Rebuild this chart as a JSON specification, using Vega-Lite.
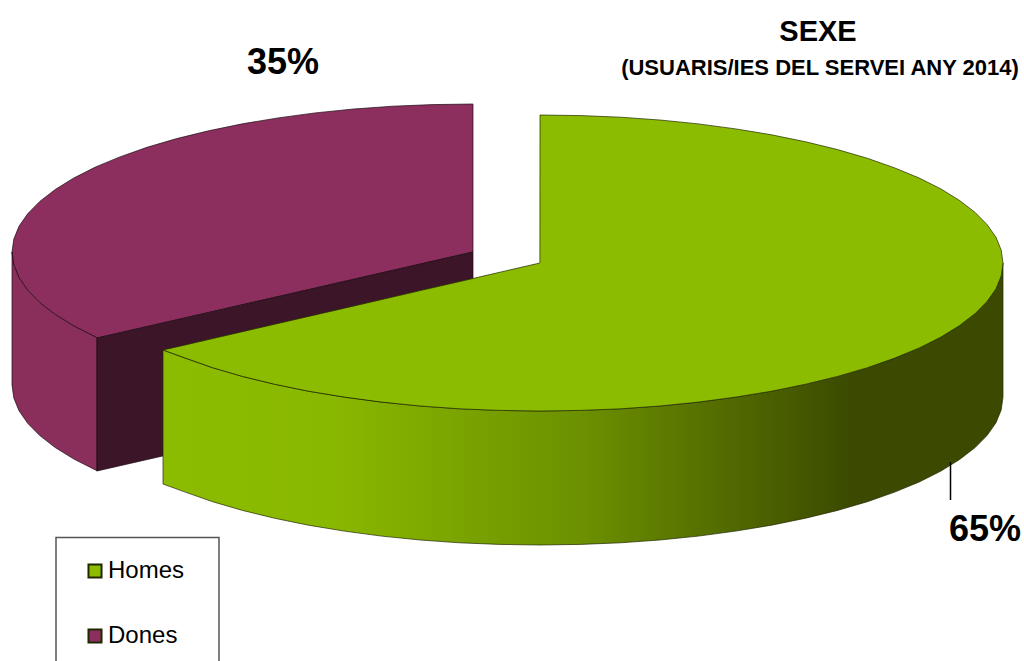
{
"$schema":"https://vega.github.io/schema/vega-lite/v6.json",
"width":1024,"height":661,
"autosize":{"type":"none"},
"padding":0,
"background":"white",
"config":{"view":{"stroke":null}},
"datasets":{
"donesTop":[
{"sexe":"Dones","x":12,"y":252,"y2":252},{"sexe":"Dones","x":13.8,"y":239.1,"y2":264.9},{"sexe":"Dones","x":19,"y":226.3,"y2":277.7},{"sexe":"Dones","x":27.7,"y":213.7,"y2":290.3},{"sexe":"Dones","x":39.8,"y":201.4,"y2":302.6},{"sexe":"Dones","x":55.2,"y":189.5,"y2":314.5},{"sexe":"Dones","x":73.8,"y":178,"y2":326},{"sexe":"Dones","x":95.4,"y":167.1,"y2":336.9},{"sexe":"Dones","x":97,"y":166.4,"y2":338},{"sexe":"Dones","x":119.9,"y":156.9,"y2":332.8},{"sexe":"Dones","x":147,"y":147.3,"y2":326.6},{"sexe":"Dones","x":176.7,"y":138.6,"y2":319.8},{"sexe":"Dones","x":208.6,"y":130.8,"y2":312.5},{"sexe":"Dones","x":242.5,"y":123.8,"y2":304.7},{"sexe":"Dones","x":278.2,"y":117.9,"y2":296.6},{"sexe":"Dones","x":315.3,"y":112.9,"y2":288.1},{"sexe":"Dones","x":353.7,"y":109,"y2":279.3},{"sexe":"Dones","x":393,"y":106.2,"y2":270.3},{"sexe":"Dones","x":432.8,"y":104.6,"y2":261.2},{"sexe":"Dones","x":473,"y":104,"y2":252}],
"donesWall":[
{"x":12,"y":252,"y2":385},{"x":13.8,"y":264.9,"y2":397.9},{"x":19,"y":277.7,"y2":410.7},{"x":27.7,"y":290.3,"y2":423.3},{"x":39.8,"y":302.6,"y2":435.6},{"x":55.2,"y":314.5,"y2":447.5},{"x":73.8,"y":326,"y2":459},{"x":95.4,"y":336.9,"y2":469.9},{"x":97,"y":338,"y2":471}],
"donesCut":[{"x":97,"y":338,"y2":471},{"x":473,"y":252,"y2":385}],
"homesWall":[
{"x":163,"y":350,"y2":484},{"x":185.3,"y":358.1,"y2":492.1},{"x":212.6,"y":367.7,"y2":501.7},{"x":242.4,"y":376.4,"y2":510.4},{"x":274.4,"y":384.2,"y2":518.2},{"x":308.5,"y":391.2,"y2":525.2},{"x":344.3,"y":397.1,"y2":531.1},{"x":381.6,"y":402.1,"y2":536.1},{"x":420.2,"y":406,"y2":540},{"x":459.6,"y":408.8,"y2":542.8},{"x":499.6,"y":410.4,"y2":544.4},{"x":540,"y":411,"y2":545},{"x":580.4,"y":410.4,"y2":544.4},{"x":620.4,"y":408.8,"y2":542.8},{"x":659.8,"y":406,"y2":540},{"x":698.4,"y":402.1,"y2":536.1},{"x":735.7,"y":397.1,"y2":531.1},{"x":771.5,"y":391.2,"y2":525.2},{"x":805.6,"y":384.2,"y2":518.2},{"x":837.6,"y":376.4,"y2":510.4},{"x":867.4,"y":367.7,"y2":501.7},{"x":894.7,"y":358.1,"y2":492.1},{"x":919.3,"y":347.9,"y2":481.9},{"x":941,"y":337,"y2":471},{"x":959.6,"y":325.5,"y2":459.5},{"x":975.1,"y":313.6,"y2":447.6},{"x":987.2,"y":301.3,"y2":435.3},{"x":996,"y":288.7,"y2":422.7},{"x":1001.2,"y":275.9,"y2":409.9},{"x":1003,"y":263,"y2":397}],
"homesTop":[
{"sexe":"Homes","x":163,"y":350,"y2":350},{"sexe":"Homes","x":185.3,"y":344.9,"y2":358.1},{"sexe":"Homes","x":212.6,"y":338.6,"y2":367.7},{"sexe":"Homes","x":242.4,"y":331.7,"y2":376.4},{"sexe":"Homes","x":274.4,"y":324.3,"y2":384.2},{"sexe":"Homes","x":308.5,"y":316.4,"y2":391.2},{"sexe":"Homes","x":344.3,"y":308.2,"y2":397.1},{"sexe":"Homes","x":381.6,"y":299.6,"y2":402.1},{"sexe":"Homes","x":420.2,"y":290.6,"y2":406},{"sexe":"Homes","x":459.6,"y":281.6,"y2":408.8},{"sexe":"Homes","x":499.6,"y":272.3,"y2":410.4},{"sexe":"Homes","x":539.9,"y":263,"y2":411},{"sexe":"Homes","x":540,"y":115,"y2":411},{"sexe":"Homes","x":580.4,"y":115.6,"y2":410.4},{"sexe":"Homes","x":620.4,"y":117.2,"y2":408.8},{"sexe":"Homes","x":659.8,"y":120,"y2":406},{"sexe":"Homes","x":698.4,"y":123.9,"y2":402.1},{"sexe":"Homes","x":735.7,"y":128.9,"y2":397.1},{"sexe":"Homes","x":771.5,"y":134.8,"y2":391.2},{"sexe":"Homes","x":805.6,"y":141.8,"y2":384.2},{"sexe":"Homes","x":837.6,"y":149.6,"y2":376.4},{"sexe":"Homes","x":867.4,"y":158.3,"y2":367.7},{"sexe":"Homes","x":894.7,"y":167.9,"y2":358.1},{"sexe":"Homes","x":919.3,"y":178.1,"y2":347.9},{"sexe":"Homes","x":941,"y":189,"y2":337},{"sexe":"Homes","x":959.6,"y":200.5,"y2":325.5},{"sexe":"Homes","x":975.1,"y":212.4,"y2":313.6},{"sexe":"Homes","x":987.2,"y":224.7,"y2":301.3},{"sexe":"Homes","x":996,"y":237.3,"y2":288.7},{"sexe":"Homes","x":1001.2,"y":250.1,"y2":275.9},{"sexe":"Homes","x":1003,"y":263,"y2":263}]
},
"encoding":{
"x":{"field":"x","type":"quantitative","scale":{"domain":[0,1024],"nice":false,"zero":false},"axis":null},
"y":{"field":"y","type":"quantitative","scale":{"domain":[661,0],"nice":false,"zero":false},"axis":null},
"y2":{"field":"y2"}
},
"layer":[
{"data":{"name":"donesTop"},"mark":{"type":"area","stroke":"#1a0a12","strokeWidth":0.7},"encoding":{"color":{"field":"sexe","type":"nominal","scale":{"domain":["Homes","Dones"],"range":["#8cbc00","#8c2f5e"]},"legend":{"title":null,"orient":"none","legendX":83,"legendY":559,"padding":0,"symbolType":"square","symbolSize":170,"symbolStrokeColor":"black","symbolStrokeWidth":2,"symbolOpacity":1,"labelFont":"Liberation Sans","labelFontSize":24,"labelColor":"black","labelLimit":120,"labelOffset":1,"rowPadding":41,"values":["Homes","Dones"]}}}},
{"data":{"name":"donesWall"},"mark":{"type":"area","color":"#8a2f5c","stroke":"#1a0a12","strokeWidth":0.7}},
{"data":{"name":"donesCut"},"mark":{"type":"area","color":"#3d1529","stroke":"#1a0a12","strokeWidth":0.7}},
{"data":{"name":"homesWall"},"mark":{"type":"area","stroke":"#1f2800","strokeWidth":0.7,"color":{"gradient":"linear","x1":0,"x2":1,"y1":0,"y2":0,"stops":[{"offset":0,"color":"#8cbc00"},{"offset":0.2,"color":"#89b800"},{"offset":0.5,"color":"#6c9000"},{"offset":0.82,"color":"#3b4a00"},{"offset":1,"color":"#3b4a00"}]}}},
{"data":{"name":"homesTop"},"mark":{"type":"area","stroke":"#1f2800","strokeWidth":0.7},"encoding":{"color":{"field":"sexe","type":"nominal","scale":{"domain":["Homes","Dones"],"range":["#8cbc00","#8c2f5e"]}}}},
{"data":{"values":[{"x":950.5,"y":462,"y2":500}]},"mark":{"type":"rule","color":"black","strokeWidth":1.5},"encoding":{"x":{"field":"x","type":"quantitative"}}},
{"data":{"values":[{"x":56,"x2":219,"y":537.5,"y2":675}]},"mark":{"type":"rect","fill":"white","stroke":"#555555","strokeWidth":1.5,"clip":true},"encoding":{"x":{"field":"x","type":"quantitative"},"x2":{"field":"x2"}}},
{"data":{"values":[{"t":"35%","x":283,"y":63},{"t":"65%","x":985,"y":530}]},"mark":{"type":"text","font":"Liberation Sans","fontWeight":"bold","fontSize":36,"color":"black","align":"center","baseline":"middle"},"encoding":{"text":{"field":"t"},"y2":{"value":null}}},
{"data":{"values":[{"t":"SEXE","x":818,"y":32}]},"mark":{"type":"text","font":"Liberation Sans","fontWeight":"bold","fontSize":29,"color":"black","align":"center","baseline":"middle"},"encoding":{"text":{"field":"t"},"y2":{"value":null}}},
{"data":{"values":[{"t":"(USUARIS/IES DEL SERVEI ANY 2014)","x":820,"y":68}]},"mark":{"type":"text","font":"Liberation Sans","fontWeight":"bold","fontSize":22,"color":"black","align":"center","baseline":"middle"},"encoding":{"text":{"field":"t"},"y2":{"value":null}}}
]
}
